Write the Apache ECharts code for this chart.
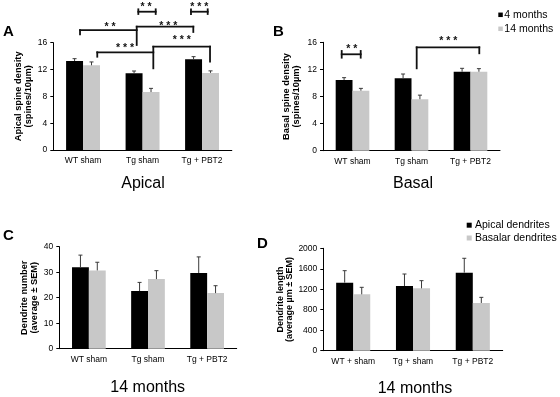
<!DOCTYPE html>
<html><head><meta charset="utf-8">
<script src="https://cdn.jsdelivr.net/npm/echarts@6/dist/echarts.min.js"></script>
<style>html,body{margin:0;padding:0;background:#fff}#c{width:560px;height:397px}</style>
</head><body><div id="c"></div>
<script>
// ---------- data ----------
const catsABC = ['WT sham', 'Tg sham', 'Tg + PBT2'];
const catsD = ['WT + sham', 'Tg + sham', 'Tg + PBT2'];
const legendAB = ['4 months', '14 months'];
const legendCD = ['Apical dendrites', 'Basalar dendrites'];

const apical4 = [13.27, 11.43, 13.52];
const apical4Sem = [0.35, 0.35, 0.4];
const apical14 = [12.63, 8.64, 11.5];
const apical14Sem = [0.5, 0.55, 0.3];

const basal4 = [10.44, 10.69, 11.66];
const basal4Sem = [0.34, 0.63, 0.5];
const basal14 = [8.86, 7.6, 11.66];
const basal14Sem = [0.34, 0.6, 0.45];

const numApical = [31.9, 22.6, 29.7];
const numApicalSem = [4.8, 3.4, 6.3];
const numBasal = [30.7, 27.3, 21.8];
const numBasalSem = [3.2, 3.3, 2.9];

const lenApical = [1329, 1264, 1524];
const lenApicalSem = [234, 234, 281];
const lenBasal = [1101, 1218, 932];
const lenBasalSem = [137, 150, 110];

// significance brackets: [u1, u2, h, leftFrom, leftTo, rightFrom, rightTo] (u = category units)
const bracketsA = [
  [-0.051, 0.902, 17.89, 17.89, 17.25, 18.39, 15.66],
  [0.902, 1.853, 18.39, 18.39, 18.39, 18.39, 17.6],
  [0.239, 1.181, 14.57, 14.57, 13.91, 15.40, 12.18],
  [1.181, 2.134, 15.40, 15.40, 15.40, 15.40, 13.17],
  [0.929, 1.221, 20.62, 20.98, 20.28, 20.98, 20.28],
  [1.814, 2.095, 20.62, 20.98, 20.28, 20.98, 20.28]
];
const starsA = [[0.453, 18.64], [1.433, 18.89], [0.705, 15.52], [1.658, 16.75], [1.058, 21.67], [1.954, 21.67]];
const starsAText = ['* *', '* * *', '* * *', '* * *', '* *', '* * *'];
const bracketsB = [
  [-0.183, 0.139, 14.23, 14.72, 13.73, 14.72, 13.73],
  [1.088, 2.149, 15.26, 15.26, 12.16, 15.26, 14.38]
];
const starsB = [[-0.014, 15.35], [1.624, 16.59]];
const starsBText = ['* *', '* * *'];

// ---------- helpers ----------
const FONT = 'Liberation Sans, Arial, sans-serif';
const BAR_FRAC = 0.285;
const BLACK = '#000000', GRAY = '#c8c8c8';

function xAxis(g, data) {
  return {
    type: 'category', gridIndex: g, data: data,
    axisLine: { lineStyle: { color: '#000', width: 1 } },
    axisTick: { length: 3, lineStyle: { color: '#000' } },
    axisLabel: { interval: 0, fontSize: 8.5, color: '#000', margin: 6, fontFamily: FONT }
  };
}
function yAxis(g, max, interval, name, gap, nsize, lh) {
  return {
    type: 'value', gridIndex: g, min: 0, max: max, interval: interval,
    axisLine: { show: true, lineStyle: { color: '#000', width: 1 } },
    axisTick: { show: true, length: 3, lineStyle: { color: '#000' } },
    splitLine: { show: false },
    axisLabel: { fontSize: 8.5, color: '#000', margin: 6, fontFamily: FONT, formatter: v => String(v) },
    name: name, nameLocation: 'middle', nameRotate: 90, nameGap: gap,
    nameTextStyle: { fontWeight: 'bold', fontSize: nsize, lineHeight: lh, color: '#000', fontFamily: FONT }
  };
}
function bar(g, name, data, color) {
  return {
    type: 'bar', name: name, xAxisIndex: g, yAxisIndex: g, data: data,
    barWidth: (BAR_FRAC * 100) + '%', barGap: '0%', itemStyle: { color: color },
    silent: true, animation: false
  };
}
function err(g, means, sems, side) {
  return {
    type: 'custom', xAxisIndex: g, yAxisIndex: g, z: 5, silent: true, animation: false,
    data: means.map((m, i) => [i, m, m + sems[i]]),
    renderItem: function (params, api) {
      const i = api.value(0);
      const p0 = api.coord([i, api.value(1)]);
      const p1 = api.coord([i, api.value(2)]);
      const band = api.size([1, 0])[0];
      const x = p0[0] + side * BAR_FRAC / 2 * band;
      const st = { stroke: '#3a3a3a', lineWidth: 1 };
      return { type: 'group', children: [
        { type: 'line', shape: { x1: x, y1: p0[1], x2: x, y2: p1[1] }, style: st },
        { type: 'line', shape: { x1: x - 2, y1: p1[1], x2: x + 2, y2: p1[1] }, style: st }
      ] };
    }
  };
}
function brackets(g, list) {
  return {
    type: 'custom', xAxisIndex: g, yAxisIndex: g, z: 6, silent: true, animation: false, clip: false,
    data: list,
    renderItem: function (params, api) {
      const c0 = api.coord([0, api.value(2)]);
      const band = api.size([1, 0])[0];
      const x1 = c0[0] + api.value(0) * band, x2 = c0[0] + api.value(1) * band;
      const yy = v => api.coord([0, v])[1];
      const st = { stroke: '#111', lineWidth: 1.8, lineCap: 'square' };
      return { type: 'group', children: [
        { type: 'line', shape: { x1: x1, y1: c0[1], x2: x2, y2: c0[1] }, style: st },
        { type: 'line', shape: { x1: x1, y1: yy(api.value(3)), x2: x1, y2: yy(api.value(4)) }, style: st },
        { type: 'line', shape: { x1: x2, y1: yy(api.value(5)), x2: x2, y2: yy(api.value(6)) }, style: st }
      ] };
    }
  };
}
function stars(g, list, texts) {
  return {
    type: 'custom', xAxisIndex: g, yAxisIndex: g, z: 6, silent: true, animation: false, clip: false,
    data: list,
    renderItem: function (params, api) {
      const c0 = api.coord([0, api.value(1)]);
      const band = api.size([1, 0])[0];
      return { type: 'text', style: {
        text: texts[params.dataIndex], x: c0[0] + api.value(0) * band, y: c0[1] + 2.5,
        textAlign: 'center', textVerticalAlign: 'middle',
        font: 'bold 10.5px ' + FONT, fill: '#111'
      } };
    }
  };
}
function txt(x, y, s, size, bold, align) {
  return { type: 'text', x: x, y: y, silent: true, style: {
    text: s, font: (bold ? 'bold ' : '') + size + 'px ' + FONT, fill: '#000',
    textAlign: align || 'center', textVerticalAlign: 'middle' } };
}

const option = {
  animation: false,
  backgroundColor: '#fff',
  grid: [
    { left: 53.3, top: 42.7, width: 178.5, height: 107.3 },
    { left: 323, top: 42.3, width: 177, height: 108.4 },
    { left: 59.3, top: 246.7, width: 177.4, height: 102 },
    { left: 323.3, top: 248.3, width: 179.4, height: 102.4 }
  ],
  xAxis: [xAxis(0, catsABC), xAxis(1, catsABC), xAxis(2, catsABC), xAxis(3, catsD)],
  yAxis: [
    yAxis(0, 16, 4, 'Apical spine density\n(spines/10µm)', 16, 9.3, 10.6),
    yAxis(1, 16, 4, 'Basal spine density\n(spines/10µm)', 21, 9.3, 10.2),
    yAxis(2, 40, 10, 'Dendrite number\n(average ± SEM)', 19, 9.3, 10.2),
    yAxis(3, 2000, 400, 'Dendrite length\n(average µm ± SEM)', 29, 9, 9.2)
  ],
  legend: [
    { data: legendAB, orient: 'vertical', left: 498.3, top: 9.3, padding: 0, itemWidth: 4.5, itemHeight: 4.5, itemGap: 3,
      icon: 'rect', selectedMode: false,
      textStyle: { fontSize: 10.5, color: '#000', fontFamily: FONT, padding: [0, 0, 0, -3.5] } },
    { data: legendCD, orient: 'vertical', left: 466.7, top: 219.7, padding: 0, itemWidth: 5, itemHeight: 5, itemGap: 1.8,
      icon: 'rect', selectedMode: false,
      textStyle: { fontSize: 10.5, color: '#000', fontFamily: FONT, padding: [0, 0, 0, -1.7] } }
  ],
  series: [
    bar(0, legendAB[0], apical4, BLACK), bar(0, legendAB[1], apical14, GRAY),
    bar(1, legendAB[0], basal4, BLACK), bar(1, legendAB[1], basal14, GRAY),
    bar(2, legendCD[0], numApical, BLACK), bar(2, legendCD[1], numBasal, GRAY),
    bar(3, legendCD[0], lenApical, BLACK), bar(3, legendCD[1], lenBasal, GRAY),
    err(0, apical4, apical4Sem, -1), err(0, apical14, apical14Sem, 1),
    err(1, basal4, basal4Sem, -1), err(1, basal14, basal14Sem, 1),
    err(2, numApical, numApicalSem, -1), err(2, numBasal, numBasalSem, 1),
    err(3, lenApical, lenApicalSem, -1), err(3, lenBasal, lenBasalSem, 1),
    brackets(0, bracketsA), stars(0, starsA, starsAText),
    brackets(1, bracketsB), stars(1, starsB, starsBText)
  ],
  graphic: [
    txt(3, 31.7, 'A', 15, true, 'left'),
    txt(273, 31.7, 'B', 15, true, 'left'),
    txt(3, 235.7, 'C', 15, true, 'left'),
    txt(257, 243.8, 'D', 15, true, 'left'),
    txt(143, 184, 'Apical', 16, false),
    txt(413, 184, 'Basal', 16, false),
    txt(147.7, 387.7, '14 months', 16, false),
    txt(415, 389, '14 months', 16, false)
  ]
};
const chart = echarts.init(document.getElementById('c'), null, { renderer: 'canvas' });
chart.setOption(option);
</script></body></html>
